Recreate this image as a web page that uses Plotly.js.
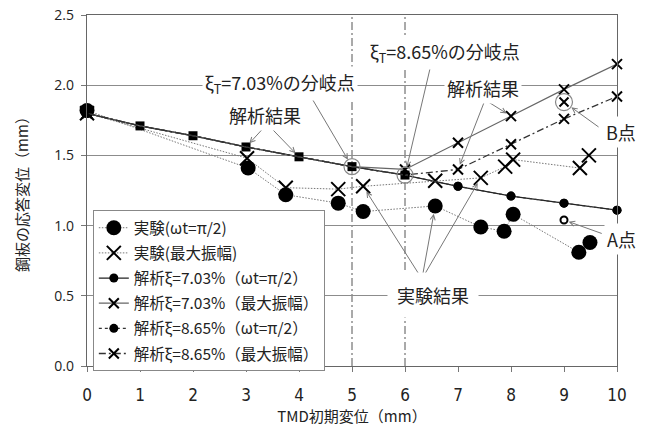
<!DOCTYPE html>
<html>
<head>
<meta charset="utf-8">
<script src="https://cdn.plot.ly/plotly-3.0.1.min.js"></script>
<style>html,body{margin:0;padding:0;background:#fff;}#chart{width:646px;height:433px;}</style>
</head>
<body>
<div id="chart"></div>
<script>
// ---- data ----
const expWtX  = [0, 3.04, 3.75, 4.74, 5.21, 6.57, 7.43, 7.87, 8.04, 9.28, 9.49];
const expWtY  = [1.82, 1.41, 1.22, 1.16, 1.10, 1.14, 0.99, 0.96, 1.08, 0.81, 0.88];
const expMaxX = [0, 3.02, 3.75, 4.74, 5.21, 6.57, 7.43, 7.89, 8.04, 9.30, 9.47];
const expMaxY = [1.80, 1.48, 1.27, 1.26, 1.28, 1.32, 1.34, 1.42, 1.47, 1.41, 1.50];
const anaX      = [0, 1, 2, 3, 4, 5, 6, 7, 8, 9, 10];
const ana703Wt  = [1.80, 1.71, 1.64, 1.56, 1.49, 1.42, 1.36, 1.28, 1.21, 1.16, 1.11];
const ana703Max = [1.80, 1.71, 1.64, 1.56, 1.49, 1.42, 1.40, 1.59, 1.78, 1.97, 2.15];
const ana865Wt  = [1.80, 1.71, 1.64, 1.56, 1.49, 1.42, 1.36, 1.28, 1.21, 1.16, 1.11];
const ana865Max = [1.80, 1.71, 1.64, 1.56, 1.49, 1.42, 1.36, 1.40, 1.58, 1.76, 1.92];
const bifX = [5, 6];
const bifY = [1.42, 1.36];
const pointBX = [9], pointBY = [1.88];
const pointAX = [9], pointAY = [1.04];
const seriesNames = [
  '実験(ωt=π/2)',
  '実験(最大振幅)',
  '解析ξ=7.03%（ωt=π/2）',
  '解析ξ=7.03%（最大振幅）',
  '解析ξ=8.65%（ωt=π/2）',
  '解析ξ=8.65%（最大振幅）'
];
// index up to which the analysis curves coincide (drawn as one square marker)
const sharedLast = 6;

const JP = '"Noto Sans CJK JP", "Noto Sans", sans-serif';
const CLEAR = 'rgba(0,0,0,0)';
function colorsFrom(first) { return anaX.map((_, i) => (i === 0 || i >= first) ? '#000' : CLEAR); }

const traces = [
  {x: expWtX, y: expWtY, name: seriesNames[0], legendgroup: 'g1', mode: 'lines+markers', cliponaxis: false,
   line: {color: '#777', width: 1, dash: '1.5px,1.5px'}, marker: {symbol: 'circle', size: 15, color: '#000'}},
  {x: expMaxX, y: expMaxY, name: seriesNames[1], legendgroup: 'g2', mode: 'lines+markers', cliponaxis: false,
   line: {color: '#777', width: 1, dash: '1.5px,1.5px'},
   marker: {symbol: 'x-thin-open', size: 14, color: '#000', line: {width: 2, color: '#000'}}},
  {x: anaX, y: ana703Wt, name: seriesNames[2], legendgroup: 'g3', mode: 'lines+markers', cliponaxis: false,
   line: {color: '#222', width: 1.3},
   marker: {symbol: anaX.map((_, i) => (i >= 1 && i <= sharedLast) ? 'square' : 'circle'), size: 9, color: '#000'}},
  {x: anaX, y: ana703Max, name: seriesNames[3], legendgroup: 'g4', mode: 'lines+markers', cliponaxis: false,
   line: {color: '#666', width: 1.2},
   marker: {symbol: 'x-thin-open', size: 10, color: colorsFrom(sharedLast), line: {width: 2}}},
  {x: anaX, y: ana865Wt, name: seriesNames[4], legendgroup: 'g5', mode: 'lines+markers', cliponaxis: false,
   line: {color: '#333', width: 1.2, dash: '3px,3px'},
   marker: {symbol: 'circle', size: 9, color: colorsFrom(sharedLast + 1), line: {width: 0}}},
  {x: anaX, y: ana865Max, name: seriesNames[5], legendgroup: 'g6', mode: 'lines+markers', cliponaxis: false,
   line: {color: '#333', width: 1.3, dash: '7px,3px,2px,3px'},
   marker: {symbol: 'x-thin-open', size: 10, color: colorsFrom(sharedLast + 1), line: {width: 2}}},
  {x: bifX, y: bifY, mode: 'markers', showlegend: false, cliponaxis: false, hoverinfo: 'skip',
   marker: {symbol: 'circle-open', size: 16, color: '#888', line: {width: 1.2}}},
  {x: pointBX, y: pointBY, mode: 'markers', showlegend: false, cliponaxis: false, hoverinfo: 'skip',
   marker: {symbol: 'x-thin-open', size: 9, color: '#000', line: {width: 2}}},
  {x: pointBX, y: pointBY, mode: 'markers', showlegend: false, cliponaxis: false, hoverinfo: 'skip',
   marker: {symbol: 'circle-open', size: 17, color: '#888', line: {width: 1.2}}},
  {x: pointAX, y: pointAY, mode: 'markers', showlegend: false, cliponaxis: false, hoverinfo: 'skip',
   marker: {symbol: 'circle-open', size: 7, color: '#000', line: {width: 2}}}
];

// text labels (paper coords)
const labels = [
  {text: 'ξ<sub>T</sub>=7.03%の分岐点', x: 0.364, y: 0.806},
  {text: '解析結果', x: 0.336, y: 0.715},
  {text: 'ξ<sub>T</sub>=8.65%の分岐点', x: 0.675, y: 0.892},
  {text: '解析結果', x: 0.747, y: 0.792},
  {text: 'B点', x: 1.008, y: 0.667},
  {text: 'A点', x: 1.008, y: 0.362},
  {text: '実験結果', x: 0.653, y: 0.202, pad: 9}
];
// arrows: head (data) <- tail (data)
const arrows = [
  {hx: bifX[0], hy: bifY[0], tx: 4.15, ty: 1.966, s: 8},
  {hx: bifX[1], hy: bifY[1], tx: 6.51, ty: 2.179, s: 8},
  {hx: anaX[3], hy: ana703Wt[3], tx: 3.40, ty: 1.724, s: 5},
  {hx: anaX[4], hy: ana703Wt[4], tx: 3.40, ty: 1.724, s: 5},
  {hx: anaX[8], hy: ana703Max[8], tx: 7.51, ty: 1.895, s: 5},
  {hx: anaX[7], hy: ana865Max[7], tx: 7.51, ty: 1.895, s: 5},
  {hx: pointBX[0], hy: pointBY[0], tx: 9.68, ty: 1.695, s: 9},
  {hx: pointAX[0], hy: pointAY[0], tx: 9.74, ty: 0.940, s: 5},
  {hx: expMaxX[4], hy: expMaxY[4], tx: 6.32, ty: 0.62, s: 6},
  {hx: expWtX[5], hy: expWtY[5], tx: 6.32, ty: 0.62, s: 8},
  {hx: expMaxX[6], hy: expMaxY[6], tx: 6.32, ty: 0.62, s: 6}
];

const annotations = [];
arrows.forEach(a => annotations.push({
  xref: 'x', yref: 'y', axref: 'x', ayref: 'y', x: a.hx, y: a.hy, ax: a.tx, ay: a.ty,
  text: '', showarrow: true, arrowhead: 5, arrowsize: 1, arrowwidth: 1, arrowcolor: '#777', standoff: a.s
}));
labels.forEach(l => annotations.push({
  xref: 'paper', yref: 'paper', x: l.x, y: l.y, xanchor: 'center', yanchor: 'middle',
  text: l.text, showarrow: false, bgcolor: '#fff', borderpad: l.pad || 2,
  font: {family: JP, size: 18, color: '#222'}
}));

const shapes = bifX.map(v => ({
  type: 'line', xref: 'x', yref: 'paper', x0: v, x1: v, y0: 0, y1: 1, layer: 'below',
  line: {color: '#555', width: 1, dash: '8px,3px,2px,3px'}
}));

const layout = {
  width: 646, height: 433,
  margin: {l: 87, r: 29, t: 15, b: 67, pad: 0},
  paper_bgcolor: '#fff', plot_bgcolor: '#fff',
  showlegend: true,
  legend: {x: 0.011, y: 0.444, xanchor: 'left', yanchor: 'top', bgcolor: '#fff',
           bordercolor: '#888', borderwidth: 1, itemwidth: 30,
           traceorder: 'grouped', tracegroupgap: 2,
           font: {family: JP, size: 15.5, color: '#222'}},
  xaxis: {range: [0, 10], tick0: 0, dtick: 1, ticks: 'outside', ticklen: 5, tickcolor: '#777',
          showgrid: false, zeroline: false, showline: true, linecolor: '#666', linewidth: 1.2, mirror: true,
          ticklabelstandoff: 8,
          tickfont: {family: '"Liberation Sans Narrow", "DejaVu Sans Condensed", sans-serif', size: 17, color: '#222'},
          title: {text: 'TMD初期変位（mm）', standoff: 6, font: {family: JP, size: 15, color: '#222'}}},
  yaxis: {range: [0, 2.5], tick0: 0, dtick: 0.5, tickformat: '.1f', ticks: 'outside', ticklen: 5, tickcolor: '#777',
          showgrid: true, gridcolor: '#8c8c8c', gridwidth: 1, zeroline: false,
          showline: true, linecolor: '#666', linewidth: 1.2, mirror: true, ticklabelstandoff: 4,
          tickfont: {family: '"Open Sans", "Noto Sans", sans-serif', size: 14, color: '#222'},
          title: {text: '鋼板の応答変位（mm）', standoff: 22, font: {family: JP, size: 15, color: '#222'}}},
  annotations: annotations,
  shapes: shapes
};

Plotly.newPlot('chart', traces, layout, {staticPlot: true, displayModeBar: false});
</script>
</body>
</html>
